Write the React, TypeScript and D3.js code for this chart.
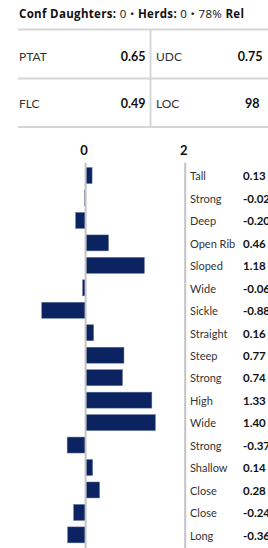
import React from "react";
import * as d3 from "d3";

const traits = ["Tall", "Strong", "Deep", "Open Rib", "Sloped", "Wide", "Sickle", "Straight", "Steep", "Strong", "High", "Wide", "Strong", "Shallow", "Close", "Close", "Long"];
const traitValues = [0.13, -0.02, -0.2, 0.46, 1.18, -0.06, -0.88, 0.16, 0.77, 0.74, 1.33, 1.4, -0.37, 0.14, 0.28, -0.24, -0.36];
const xTicks = [0, 2];

const tableLabels = [["PTAT", "UDC"], ["FLC", "LOC"]];
const tableValues = [["0.65", "0.75"], ["0.49", "98"]];

const FONT = "Lato, 'Open Sans', sans-serif";

const App: React.FC = () => {
  const width = 268;
  const height = 548;

  // bar chart scales
  const x = d3.scaleLinear().domain([0, 2]).range([85.6, 185.2]);
  const rowStep = 22.46;
  const top = 164.3;
  const y = d3
    .scaleBand<number>()
    .domain(d3.range(traits.length))
    .range([top, top + rowStep * traits.length])
    .paddingInner(0.29)
    .paddingOuter(0.145);

  const fmt = (v: number) => v.toFixed(2);

  return (
    <svg
      width={width}
      height={height}
      style={{ position: "absolute", left: 0, top: 0, background: "#fff" }}
      fontFamily={FONT}
    >
      {/* header line */}
      <text x={19} y={17.5} fontSize={11.5} fill="#111" fontFamily="'Open Sans', sans-serif" textLength={225} lengthAdjust="spacing">
        <tspan fontWeight="bold">Conf Daughters:</tspan>
        <tspan> 0 • </tspan>
        <tspan fontWeight="bold">Herds:</tspan>
        <tspan> 0 • 78% </tspan>
        <tspan fontWeight="bold">Rel</tspan>
      </text>

      {/* table */}
      <g>
        <line x1={18} x2={width} y1={29.5} y2={29.5} stroke="#d6d6d6" strokeWidth={2} />
        <line x1={18} x2={width} y1={78.5} y2={78.5} stroke="#d6d6d6" strokeWidth={2} />
        <line x1={18} x2={width} y1={127} y2={127} stroke="#d6d6d6" strokeWidth={2} />
        <line x1={150.5} x2={150.5} y1={29} y2={127} stroke="#d6d6d6" strokeWidth={2} />
        {tableLabels.map((row, r) =>
          row.map((lab, c) => (
            <g key={`${r}-${c}`}>
              <text x={c === 0 ? 19 : 156} y={r === 0 ? 61 : 107.5} fontSize={12} fill="#333">
                {lab}
              </text>
              <text
                x={c === 0 ? 145.5 : r === 0 ? 262.5 : 259.5}
                y={r === 0 ? 61 : 107.5}
                fontSize={12.5}
                fontWeight="bold"
                fill="#111"
                textAnchor="end"
              >
                {tableValues[r][c]}
              </text>
            </g>
          ))
        )}
      </g>

      {/* tick labels */}
      {xTicks.map((t) => (
        <text key={t} x={x(t) - 1.5} y={155} fontSize={13} fontWeight="bold" fill="#111" textAnchor="middle">
          {t}
        </text>
      ))}

      {/* bars */}
      {traitValues.map((v, i) => (
        <rect
          key={i}
          x={Math.min(x(0), x(v))}
          y={y(i)}
          width={Math.abs(x(v) - x(0))}
          height={y.bandwidth()}
          fill="#0b2360"
          stroke="#5b6f9a"
          strokeWidth={0.5}
        />
      ))}

      {/* zero and max lines */}
      {xTicks.map((t) => (
        <line key={t} x1={x(t)} x2={x(t)} y1={162.7} y2={height} stroke="#c4c4c4" strokeWidth={2} />
      ))}

      {/* trait labels and values */}
      {traits.map((name, i) => {
        const cy = (y(i) ?? 0) + y.bandwidth() / 2 + 4.8;
        return (
          <g key={i}>
            <text x={190} y={cy} fontSize={11} fill="#333">
              {name}
            </text>
            <text x={243} y={cy} fontSize={11.5} fontWeight="bold" fill="#111">
              {fmt(traitValues[i])}
            </text>
          </g>
        );
      })}
    </svg>
  );
};

export default App;
